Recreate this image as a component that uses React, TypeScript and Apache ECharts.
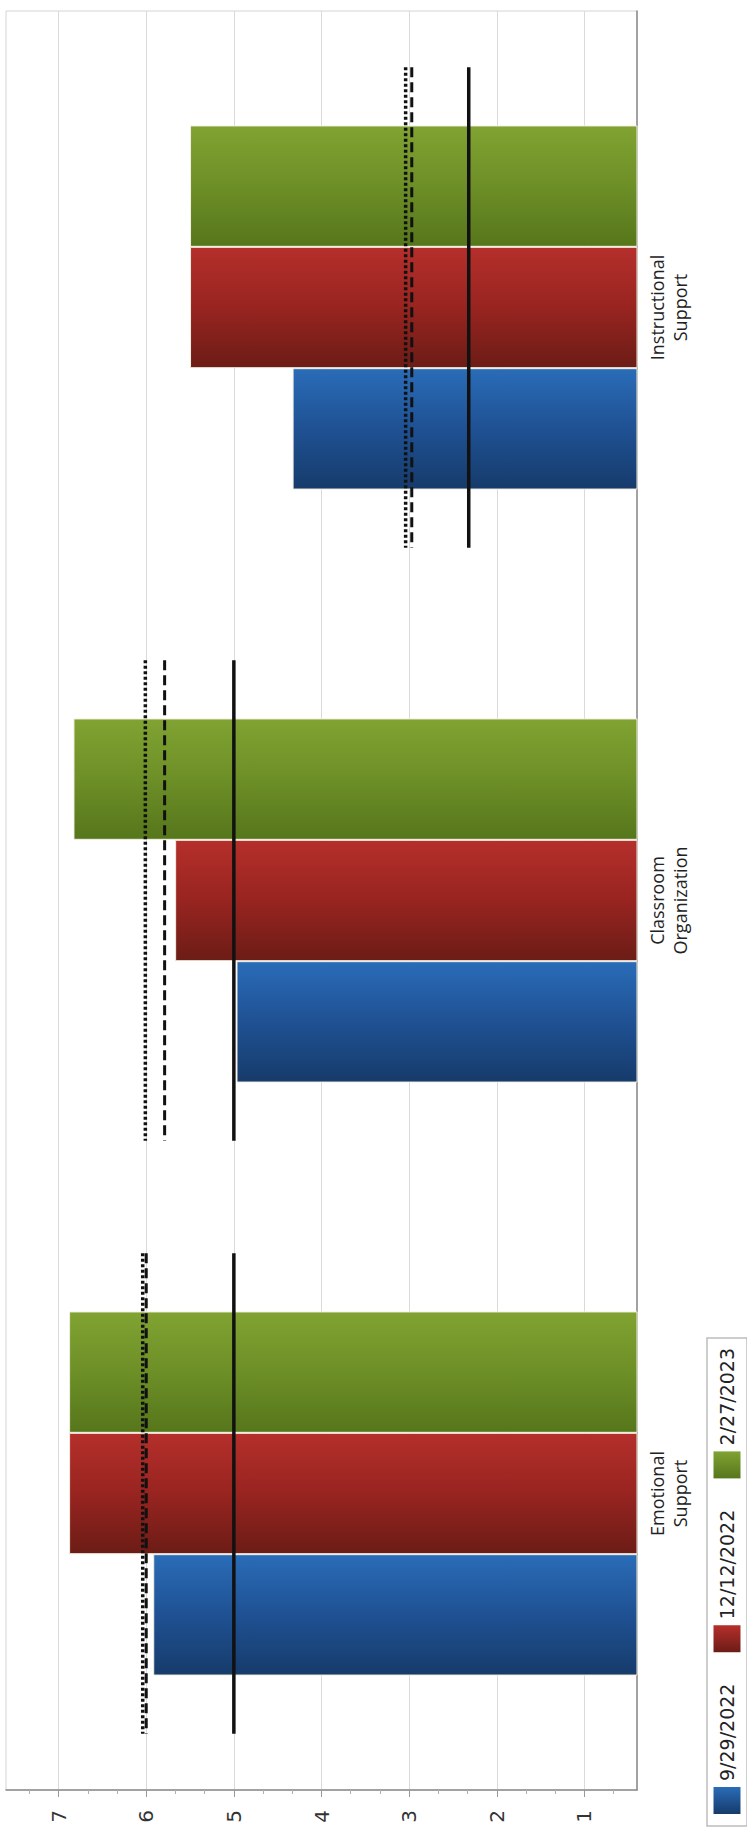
import React, { useEffect, useRef } from "react";
import * as echarts from "echarts";

// ---- data ----
const CATEGORIES = ["Emotional\nSupport", "Classroom\nOrganization", "Instructional\nSupport"];
const SERIES_NAMES = ["9/29/2022", "12/12/2022", "2/27/2023"];
const SCORES_SEP = [5.92, 4.97, 4.33];
const SCORES_DEC = [6.88, 5.67, 5.5];
const SCORES_FEB = [6.88, 6.83, 5.5];
const REF_SOLID = [5.0, 5.0, 2.32];
const REF_DOTTED = [6.04, 6.01, 3.04];
const REF_DASHED = [6.0, 5.79, 2.97];
const MAJOR_TICKS = [1, 2, 3, 4, 5, 6, 7];
const MINOR_TICKS = [0.667, 1.333, 1.667, 2.333, 2.667, 3.333, 3.667, 4.333, 4.667, 5.333, 5.667, 6.333, 6.667, 7.333];
const AXIS_MIN = 0.4;
const AXIS_MAX = 7.6;

const SERIES_COLORS = [
  ["#2a6cb8", "#1f5193", "#163b6b"],
  ["#b52f2b", "#982420", "#6c1c16"],
  ["#80a332", "#6d8f27", "#56761b"],
];

function grad(stops: string[]) {
  return new echarts.graphic.LinearGradient(0, 0, 0, 1, [
    { offset: 0, color: stops[0] },
    { offset: 0.5, color: stops[1] },
    { offset: 1, color: stops[2] },
  ]);
}

const LINE_HALF = 0.405;

function refSeries(name: string, values: number[], dash: number[] | null, width: number) {
  return {
    type: "custom",
    name,
    xAxisIndex: 0,
    yAxisIndex: 0,
    z: 5,
    encode: { x: 0, y: 1 },
    data: values.map((v, i) => [v, i]),
    renderItem: (params: any, api: any) => {
      const p = api.coord([api.value(0), api.value(1)]);
      const band = api.size([0, 1])[1];
      const half = band * LINE_HALF;
      return {
        type: "line",
        shape: { x1: p[0], y1: p[1] - half, x2: p[0], y2: p[1] + half },
        style: {
          stroke: "#111",
          lineWidth: width,
          lineDash: dash || undefined,
        },
      };
    },
  };
}

export default function App() {
  const ref = useRef<HTMLDivElement>(null);
  useEffect(() => {
    if (!ref.current) return;
    const chart = echarts.init(ref.current, undefined, { renderer: "svg" });

    const seriesData = [SCORES_SEP, SCORES_DEC, SCORES_FEB];
    // first series is drawn at the top of each band, so add them in reverse
    const order = [2, 1, 0];
    const bars = order.map((k) => ({
      type: "bar",
      name: SERIES_NAMES[k],
      data: seriesData[k],
      barGap: "0%",
      barCategoryGap: "38.6%",
      itemStyle: { color: grad(SERIES_COLORS[k]), borderColor: "#f3efe2", borderWidth: 1 },
      z: 2,
    }));

    // legend (rotated) built with graphic elements
    const LX = 707;
    const LY = 1826;
    const BOX_W = 488;
    const BOX_H = 40;
    const fs = 19;
    const textW = (s: string) => {
      let w = 0;
      for (const ch of s) w += ch === "/" ? 0.337 : 0.636;
      return w * fs;
    };
    const sw = 27;
    const legendChildren: any[] = [
      {
        type: "rect",
        shape: { x: 0, y: 0, width: BOX_W, height: BOX_H },
        style: { fill: "#fff", stroke: "#bdbdbd", lineWidth: 1.5 },
      },
    ];
    const itemsW = SERIES_NAMES.reduce((a, s) => a + sw + 6 + textW(s), 0);
    const startPad = 12;
    const endPad = 10;
    const gap = (BOX_W - startPad - endPad - itemsW) / (SERIES_NAMES.length - 1);
    let cx = startPad;
    SERIES_NAMES.forEach((name, k) => {
      const c = SERIES_COLORS[k];
      legendChildren.push({
        type: "rect",
        shape: { x: cx, y: (BOX_H - sw) / 2, width: sw, height: sw },
        style: {
          fill: new echarts.graphic.LinearGradient(1, 0, 0, 0, [
            { offset: 0, color: c[0] },
            { offset: 1, color: c[2] },
          ]),
        },
      });
      legendChildren.push({
        type: "text",
        x: cx + sw + 6,
        y: BOX_H / 2,
        style: {
          text: name,
          fontSize: fs,
          fontFamily: "DejaVu Sans",
          fill: "#222",
          align: "left",
          verticalAlign: "middle",
        },
      });
      cx += sw + 6 + textW(name) + gap;
    });

    chart.setOption({
      animation: false,
      backgroundColor: "#ffffff",
      grid: {
        left: 6,
        right: 110,
        top: 11,
        bottom: 49,
        show: true,
        borderColor: "#d4d4d4",
        borderWidth: 1,
        containLabel: false,
        outerBoundsMode: "none",
      },
      xAxis: [
        {
          type: "value",
          inverse: true,
          min: AXIS_MIN,
          max: AXIS_MAX,
          position: "bottom",
          axisLine: { show: true, lineStyle: { color: "#8a8a8a", width: 1.5 } },
          axisTick: {
            show: true,
            customValues: MAJOR_TICKS,
            length: 7,
            lineStyle: { color: "#9a9a9a", width: 1 },
          },
          axisLabel: {
            show: true,
            customValues: MAJOR_TICKS,
            rotate: 90,
            margin: 20,
            fontSize: 20,
            fontFamily: "DejaVu Sans",
            color: "#333",
          },
          splitLine: { show: true, lineStyle: { color: "#dadada", width: 1 } },
        },
        {
          type: "value",
          inverse: true,
          min: AXIS_MIN,
          max: AXIS_MAX,
          position: "bottom",
          axisLine: { show: false },
          axisTick: {
            show: true,
            customValues: MINOR_TICKS,
            length: 4,
            lineStyle: { color: "#b0b0b0", width: 1 },
          },
          axisLabel: { show: false },
          splitLine: { show: false },
        },
      ],
      yAxis: {
        type: "category",
        position: "right",
        data: CATEGORIES,
        axisLine: { show: true, lineStyle: { color: "#8a8a8a", width: 1.5 } },
        axisTick: { show: false },
        axisLabel: {
          rotate: 90,
          margin: 8,
          fontSize: 18,
          lineHeight: 23,
          fontFamily: "Open Sans",
          color: "#222",
          align: "center",
        },
        splitLine: { show: false },
      },
      series: [
        ...bars,
        refSeries("ref-solid", REF_SOLID, null, 3.5),
        refSeries("ref-dashed", REF_DASHED, [10, 5], 3),
        refSeries("ref-dotted", REF_DOTTED, [3, 2.5], 3.5),
      ],
      graphic: [
        {
          type: "group",
          x: LX,
          y: LY,
          rotation: Math.PI / 2,
          children: legendChildren,
        },
      ],
    });
    return () => chart.dispose();
  }, []);
  return (
    <div
      ref={ref}
      style={{ position: "absolute", left: 0, top: 0, width: 747, height: 1839, background: "#fff" }}
    />
  );
}
